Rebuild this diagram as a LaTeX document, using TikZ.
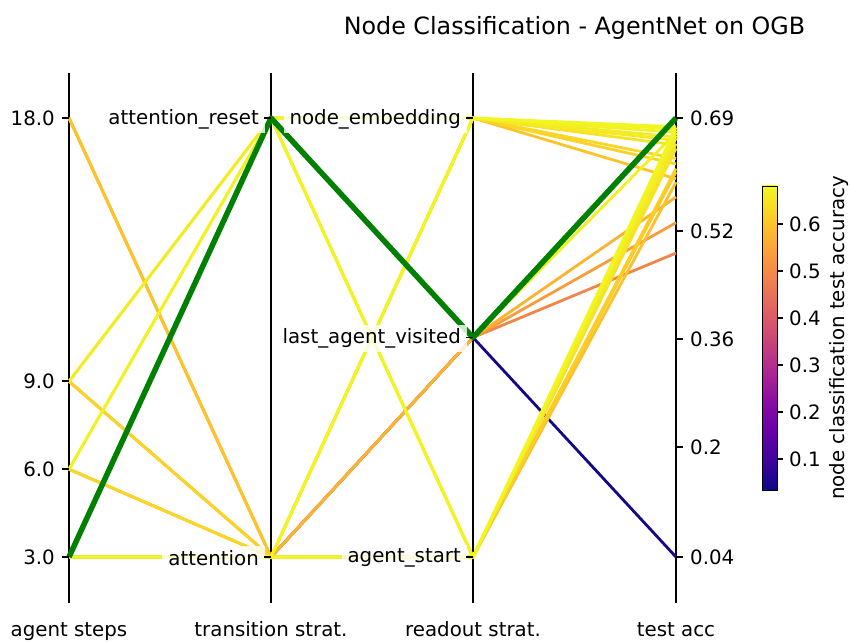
\documentclass[tikz,border=0pt]{standalone}
\usepackage{fontspec}
\setmainfont{DejaVu Sans}

% plasma colormap stops
\definecolor{pl0}{HTML}{0D0887}
\definecolor{pl1}{HTML}{41049D}
\definecolor{pl2}{HTML}{6A00A8}
\definecolor{pl3}{HTML}{8F0DA4}
\definecolor{pl4}{HTML}{B12A90}
\definecolor{pl5}{HTML}{CC4778}
\definecolor{pl6}{HTML}{E16462}
\definecolor{pl7}{HTML}{F2844B}
\definecolor{pl8}{HTML}{FCA636}
\definecolor{pl9}{HTML}{FCCE25}
\definecolor{pl10}{HTML}{F0F921}
\definecolor{bestrun}{HTML}{008000}

% \setplasma{name}{t}: colour at position t (0..1) of the plasma map
\newcommand\setplasma[2]{%
  \pgfmathsetmacro\plt{max(0,min(#2,0.9999))}%
  \pgfmathtruncatemacro\plk{floor(\plt*10)}%
  \pgfmathtruncatemacro\plkk{\plk+1}%
  \pgfmathsetmacro\plw{100-(\plt*10-\plk)*100}%
  \colorlet{#1}{pl\plk!\plw!pl\plkk}}

\tikzset{
  ticklabel/.style={font=\fontsize{19.8}{23}\selectfont, inner sep=0pt},
  catlabel/.style={anchor=east, fill=white, fill opacity=0.8, text opacity=1,
    inner xsep=6pt, inner ysep=4pt, font=\fontsize{19.8}{23}\selectfont},
  axisline/.style={line width=1.3pt, black},
  tickmark/.style={line width=1.1pt, black},
  run/.style={line width=2.8pt, line join=round},
  best/.style={line width=5.5pt, draw=bestrun, line join=round},
}

\begin{document}
\begin{tikzpicture}[x=1pt, y=-1pt]
\useasboundingbox (0,0) rectangle (851,641);

% axis positions
\coordinate (stepsTop) at (69,73);   \coordinate (stepsBot) at (69,603);
\coordinate (transTop) at (271,73);  \coordinate (transBot) at (271,603);
\coordinate (readTop)  at (473,73);  \coordinate (readBot)  at (473,603);
\coordinate (accTop)   at (676,73);  \coordinate (accBot)   at (676,603);

\draw[axisline] (stepsTop) -- (stepsBot);
\draw[axisline] (transTop) -- (transBot);
\draw[axisline] (readTop) -- (readBot);
\draw[axisline] (accTop) -- (accBot);

% runs: agent steps / transition (0 attention, 1 attention_reset) /
% readout (0 agent_start, 1 last_agent_visited, 2 node_embedding) / test acc
\foreach \s/\tr/\ro/\acc in {
  3/0/1/0.04, 18/0/1/0.49, 6/0/1/0.535, 9/0/1/0.573,
  18/0/0/0.595, 18/0/2/0.600, 9/0/0/0.61, 6/0/0/0.615,
  9/0/2/0.622, 6/0/2/0.630, 3/1/0/0.645, 3/1/2/0.650,
  3/0/0/0.652, 3/0/2/0.657, 9/1/0/0.660, 9/1/2/0.662,
  3/0/0/0.664, 3/1/1/0.668, 6/1/0/0.668, 6/1/2/0.669,
  3/1/0/0.672, 3/1/2/0.674, 3/0/0/0.676, 3/0/2/0.677}{
  \pgfmathsetmacro\yA{557-(\s-3)*29.27}
  \pgfmathsetmacro\yB{557-\tr*439}
  \pgfmathsetmacro\yC{557-\ro*219.5}
  \pgfmathsetmacro\yD{557-(\acc-0.04)*675.4}
  \pgfmathsetmacro\tc{(\acc-0.034)/0.647}
  \setplasma{runcol}{\tc}
  \draw[run, draw=runcol] (69,\yA) -- (271,\yB) -- (473,\yC) -- (676,\yD);
}
% best run
\draw[best] (69,557) -- (271,118) -- (473,337.5) -- (676,118);

% left axis: agent steps
\foreach \v/\y in {18.0/118, 9.0/381, 6.0/469, 3.0/557}{
  \draw[tickmark] (62,\y) -- (69,\y);
  \node[ticklabel, anchor=east] at (55,\y) {\v};
}
% categorical axes
\foreach \xa/\y/\lab in {271/118/attention\_reset, 271/557/attention,
  473/118/node\_embedding, 473/337.5/last\_agent\_visited, 473/557/agent\_start}{
  \node[catlabel] at (\xa-6,\y+1) {\lab};
  \draw[tickmark] (\xa-7,\y) -- (\xa,\y);
}
% right axis: test acc
\foreach \v/\y in {0.69/118, 0.52/231, 0.36/339, 0.2/447, 0.04/557}{
  \draw[tickmark] (676,\y) -- (683,\y);
  \node[ticklabel, anchor=west] at (690,\y) {\v};
}

% axis names
\foreach \xa/\lab in {69/agent steps, 271/transition strat., 473/readout strat., 676/test acc}{
  \node[ticklabel, anchor=base] at (\xa,636) {\lab};
}

% title
\node[font=\fontsize{23.8}{28}\selectfont, anchor=base, inner sep=0pt] (title) at (574.5,34)
  {Node Classification - AgentNet on OGB};

% colour bar
\foreach \k in {0,...,9}{
  \pgfmathtruncatemacro\kk{\k+1}
  \shade[bottom color=pl\k, top color=pl\kk]
    (762,{490-\k*30.4+0.4}) rectangle (777,{490-(\k+1)*30.4-0.4});
}
\draw[line width=1pt] (762,186) rectangle (777,490);
\foreach \v in {0.1,0.2,0.3,0.4,0.5,0.6}{
  \pgfmathsetmacro\yc{459-(\v-0.1)*470}
  \draw[tickmark] (777,\yc) -- (783,\yc);
  \node[ticklabel, anchor=west] at (789,\yc) {\v};
}
\node[ticklabel, rotate=90] (cblabel) at (839,338) {node classification test accuracy};
\end{tikzpicture}
\end{document}
